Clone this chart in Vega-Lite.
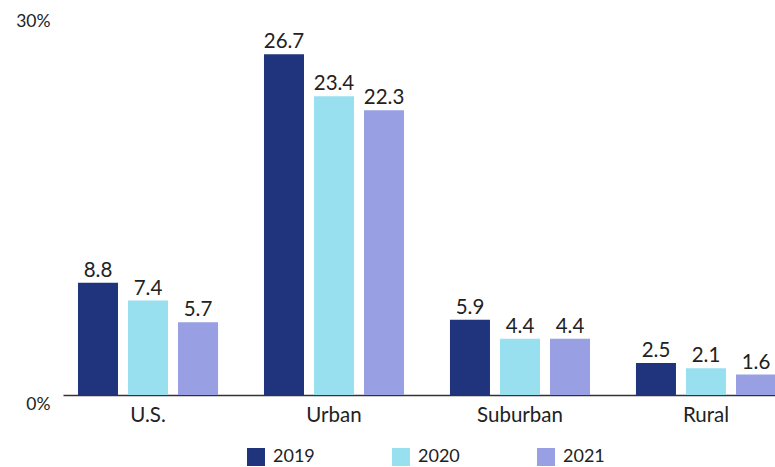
{
  "$schema": "https://vega.github.io/schema/vega-lite/v6.json",
  "width": 712,
  "height": 383,
  "autosize": {"type": "none"},
  "padding": {"left": 63, "top": 12, "right": 0, "bottom": 72},
  "background": "white",
  "config": {
    "view": {"stroke": null},
    "font": "Lato",
    "axis": {"labelFont": "Lato", "labelColor": "#222222"},
    "legend": {"labelFont": "Lato", "labelColor": "#222222"}
  },
  "data": {
    "values": [
      {"area": "U.S.", "year": "2019", "value": 8.8},
      {"area": "U.S.", "year": "2020", "value": 7.4},
      {"area": "U.S.", "year": "2021", "value": 5.7},
      {"area": "Urban", "year": "2019", "value": 26.7},
      {"area": "Urban", "year": "2020", "value": 23.4},
      {"area": "Urban", "year": "2021", "value": 22.3},
      {"area": "Suburban", "year": "2019", "value": 5.9},
      {"area": "Suburban", "year": "2020", "value": 4.4},
      {"area": "Suburban", "year": "2021", "value": 4.4},
      {"area": "Rural", "year": "2019", "value": 2.5},
      {"area": "Rural", "year": "2020", "value": 2.1},
      {"area": "Rural", "year": "2021", "value": 1.6}
    ]
  },
  "encoding": {
    "x": {
      "field": "area",
      "type": "nominal",
      "sort": ["U.S.", "Urban", "Suburban", "Rural"],
      "scale": {"range": [0, 728], "paddingInner": 0.247, "paddingOuter": 0.0806},
      "axis": {
        "title": null,
        "labelAngle": 0,
        "ticks": false,
        "domainColor": "#333333",
        "domainWidth": 1.5,
        "labelFontSize": 20.5,
        "labelPadding": 10,
        "labelBaseline": "top"
      }
    },
    "xOffset": {
      "field": "year",
      "type": "nominal",
      "scale": {"paddingInner": 0.2, "paddingOuter": 0}
    },
    "y": {
      "field": "value",
      "type": "quantitative",
      "scale": {"domain": [0, 30], "nice": false},
      "axis": {
        "title": null,
        "values": [0, 30],
        "labelExpr": "datum.value + '%'",
        "ticks": false,
        "domain": false,
        "grid": false,
        "labelFontSize": 17.5,
        "labelBaseline": "top",
        "labelPadding": 13
      }
    }
  },
  "layer": [
    {
      "mark": {"type": "bar"},
      "encoding": {
        "color": {
          "field": "year",
          "type": "nominal",
          "scale": {"domain": ["2019", "2020", "2021"], "range": ["#1f347d", "#98e0ef", "#989fe2"]},
          "legend": {
            "title": null,
            "orient": "none",
            "direction": "horizontal",
            "legendX": 184,
            "legendY": 436,
            "symbolType": "square",
            "symbolSize": 324,
            "symbolStrokeWidth": 0,
            "symbolOpacity": 1,
            "labelFontSize": 18,
            "labelOffset": 8,
            "columnPadding": 77
          }
        }
      }
    },
    {
      "mark": {"type": "text", "baseline": "alphabetic", "dy": -6, "fontSize": 20.5, "color": "#222222"},
      "encoding": {
        "text": {"field": "value", "type": "quantitative", "format": ".1f"}
      }
    }
  ]
}
